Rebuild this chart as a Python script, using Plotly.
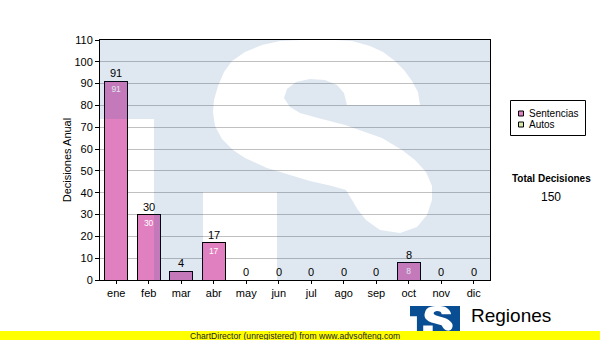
import plotly.graph_objects as go

# ---------------- data ----------------
months = ["ene", "feb", "mar", "abr", "may", "jun", "jul", "ago", "sep", "oct", "nov", "dic"]
sentencias = [91, 30, 4, 17, 0, 0, 0, 0, 0, 8, 0, 0]
autos = [0, 0, 0, 0, 0, 0, 0, 0, 0, 0, 0, 0]
series_names = ["Sentencias", "Autos"]
series_colors = ["#e080c0", "#d6e9a4"]
y_ticks = list(range(0, 111, 10))
y_title = "Decisiones Anual"
total_label = "Total Decisiones"
brand_text = "Regiones"
footer_text = "ChartDirector (unregistered) from www.advsofteng.com"

# ---------------- geometry helpers ----------------
W, H = 600, 340
L, R, T, B = 100, 110, 40, 60
PW, PH = W - L - R, H - T - B
FONT = "Liberation Sans, Arial, sans-serif"


def px(x):
    return (x - L) / PW


def py(y):
    return (H - B - y) / PH


# logo outline in logo units (box 390 x 240, origin top-left)
LOGO_W, LOGO_H = 390, 240
s_outline = [(347, 105), (420, 105), (418, 92), (412, 81), (404, 70), (395, 61), (383, 52), (370, 46),
             (352, 41), (335, 40), (300, 40), (280, 41), (262, 45), (245, 52), (232, 61), (224, 72),
             (218, 86), (214, 100), (213, 112), (215, 126), (222, 139), (233, 150), (245, 158),
             (267, 168), (290, 175), (310, 181), (332, 186), (346, 190), (352, 200), (358, 210),
             (366, 220), (380, 230), (400, 233), (417, 227), (427, 215), (432, 200), (432, 186),
             (426, 172), (415, 160), (402, 150), (382, 138), (365, 132), (345, 125), (318, 118),
             (300, 113), (290, 107), (284, 98), (287, 89), (296, 82), (310, 79), (325, 80),
             (337, 85), (344, 93)]
s_outline = [(x - 100, y - 40) for x, y in s_outline]
gap_rect = [(0, 79), (54, 79), (54, 240), (0, 240)]
tail_rect = [(103, 152), (177, 152), (177, 240), (103, 240)]
outer_rect = [(0, 0), (LOGO_W, 0), (LOGO_W, LOGO_H), (0, LOGO_H)]


def logo_path(ox, oy, sc):
    parts = []
    for poly in (outer_rect, gap_rect, tail_rect, s_outline):
        pts = [(px(ox + u * sc), py(oy + v * sc)) for u, v in poly]
        parts.append("M" + " L".join(f"{a:.5f},{b:.5f}" for a, b in pts) + " Z")
    return " ".join(parts)


fig = go.Figure()

fig.add_trace(go.Bar(
    x=months, y=sentencias, name=series_names[0],
    marker=dict(color=series_colors[0], line=dict(color="black", width=1)),
    text=[str(v) for v in sentencias], textposition="inside", insidetextanchor="end",
    textangle=0, textfont=dict(family=FONT, size=8.5, color="white"),
    showlegend=False, hoverinfo="skip",
))
fig.add_trace(go.Bar(
    x=months, y=autos, name=series_names[1],
    marker=dict(color=series_colors[1], line=dict(color="black", width=0)),
    showlegend=False, hoverinfo="skip",
))

totals = [a + b for a, b in zip(sentencias, autos)]
annotations = []
for m, v in zip(months, totals):
    annotations.append(dict(x=m, y=v, xref="x", yref="y", text=str(v), showarrow=False,
                            yanchor="bottom", font=dict(family=FONT, size=11, color="black")))

shapes = []
# watermark logo (translucent overlay)
shapes.append(dict(type="path", xref="paper", yref="paper", path=logo_path(100, 40, 1.0),
                   fillcolor="rgb(9,78,147)", opacity=0.13, line=dict(width=0), layer="above",
                   fillrule="evenodd"))
# small logo
shapes.append(dict(type="path", xref="paper", yref="paper", path=logo_path(410, 306, 50 / 390),
                   fillcolor="rgb(9,78,147)", opacity=1, line=dict(width=0), layer="above",
                   fillrule="evenodd"))
# footer band
shapes.append(dict(type="rect", xref="paper", yref="paper", x0=px(0), x1=px(600), y0=py(331), y1=py(340),
                   fillcolor="#ffff00", line=dict(width=0), layer="above"))
# legend box
shapes.append(dict(type="rect", xref="paper", yref="paper", x0=px(510.5), x1=px(585.5), y0=py(100.5),
                   y1=py(135.5), fillcolor="white", line=dict(color="black", width=1), layer="above"))
leg_y = [113.5, 124.5]
for name, col, yy in zip(series_names, series_colors, leg_y):
    shapes.append(dict(type="rect", xref="paper", yref="paper", x0=px(518.5), x1=px(523.5),
                       y0=py(yy - 2.5), y1=py(yy + 2.5), fillcolor=col,
                       line=dict(color="black", width=1), layer="above"))
    annotations.append(dict(x=px(526.5), y=py(yy), xref="paper", yref="paper", text=name,
                            showarrow=False, xanchor="left", yanchor="middle",
                            font=dict(family=FONT, size=10, color="black")))

annotations.append(dict(x=px(551), y=py(178.5), xref="paper", yref="paper", text=f"<b>{total_label}</b>",
                        showarrow=False, xanchor="center", yanchor="middle",
                        font=dict(family=FONT, size=10, color="black")))
annotations.append(dict(x=px(551), y=py(196.5), xref="paper", yref="paper", text=str(sum(totals)),
                        showarrow=False, xanchor="center", yanchor="middle",
                        font=dict(family=FONT, size=12, color="black")))
annotations.append(dict(x=px(469), y=py(315), xref="paper", yref="paper", text=brand_text,
                        showarrow=False, xanchor="left", yanchor="middle",
                        font=dict(family=FONT, size=19, color="black")))
annotations.append(dict(x=px(295), y=py(335.5), xref="paper", yref="paper", text=footer_text,
                        showarrow=False, xanchor="center", yanchor="middle",
                        font=dict(family=FONT, size=8.6, color="#222222")))

fig.update_layout(
    width=W, height=H, margin=dict(l=L, r=R, t=T, b=B, pad=0),
    paper_bgcolor="white", plot_bgcolor="white",
    barmode="stack", bargap=0.29,
    uniformtext=dict(minsize=8, mode="hide"),
    showlegend=False,
    font=dict(family=FONT, size=11, color="black"),
    shapes=shapes, annotations=annotations,
    xaxis=dict(type="category", categoryorder="array", categoryarray=months,
               showline=True, linecolor="black", linewidth=1, mirror=True,
               ticks="outside", ticklen=3, tickcolor="black", showgrid=False,
               tickfont=dict(family=FONT, size=11, color="black"), fixedrange=True),
    yaxis=dict(range=[0, 110], tickvals=y_ticks, showline=True, linecolor="black", linewidth=1,
               mirror=True, ticks="outside", ticklen=4, tickcolor="black",
               showgrid=True, gridcolor="#c0c0c0", gridwidth=1, zeroline=False,
               tickfont=dict(family=FONT, size=11, color="black"),
               title=dict(text=y_title, font=dict(family=FONT, size=11, color="black"), standoff=0),
               fixedrange=True),
)

fig.write_html("out.html", config={"displayModeBar": False})
